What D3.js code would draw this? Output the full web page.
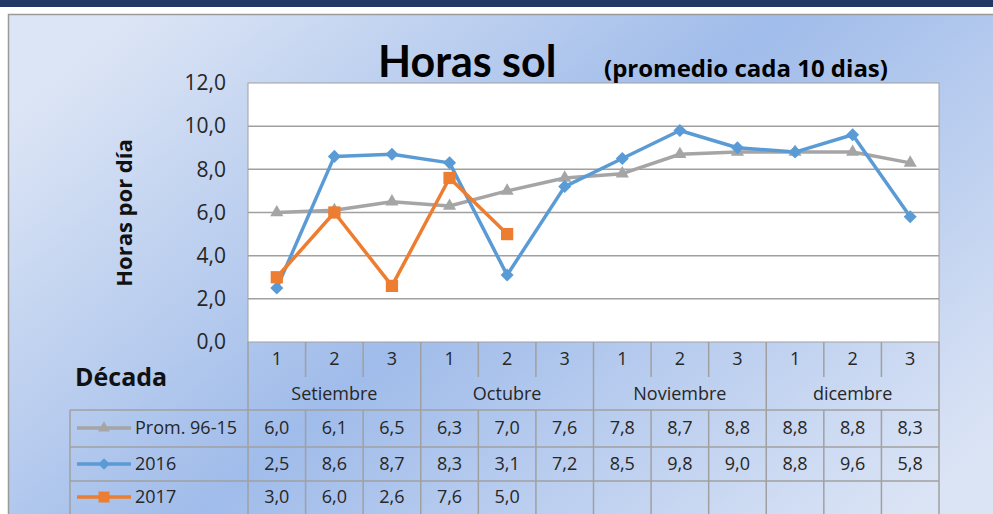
<!DOCTYPE html>
<html>
<head>
<meta charset="utf-8">
<script src="https://cdn.jsdelivr.net/npm/d3@7"></script>
<style>
  html, body { margin: 0; padding: 0; background: #fff; }
  svg { display: block; font-family: Lato, "Open Sans", sans-serif; }
</style>
</head>
<body>
<div id="chart"></div>
<script>
// data
const decadas = ['1', '2', '3', '1', '2', '3', '1', '2', '3', '1', '2', '3'];
const meses = ['Setiembre', 'Octubre', 'Noviembre', 'dicembre'];
const prom9615 = [6.0, 6.1, 6.5, 6.3, 7.0, 7.6, 7.8, 8.7, 8.8, 8.8, 8.8, 8.3];
const serie2016 = [2.5, 8.6, 8.7, 8.3, 3.1, 7.2, 8.5, 9.8, 9.0, 8.8, 9.6, 5.8];
const serie2017 = [3.0, 6.0, 2.6, 7.6, 5.0, null, null, null, null, null, null, null];
const yTicks = [0, 2, 4, 6, 8, 10, 12];

const series = [
  { name: 'Prom. 96-15', values: prom9615, color: '#a5a5a5', symbol: d3.symbolTriangle, size: 75, rot: 0 },
  { name: '2016', values: serie2016, color: '#5b9bd5', symbol: d3.symbolSquare, size: 85, rot: 45 },
  { name: '2017', values: serie2017, color: '#ed7d31', symbol: d3.symbolSquare, size: 150, rot: 0 }
];

const W = 993, H = 514;
const plot = { left: 248, right: 939, top: 83, bottom: 342 };
const rowY = [342, 377, 410, 447, 481, 520];
const legendLeft = 70;
const gridColor = '#a0a0a0';
const textColor = '#262626';

const fmt = v => d3.format('.1f')(v).replace('.', ',');

const svg = d3.select('#chart').append('svg')
  .attr('width', W)
  .attr('height', H);

// fondo
const defs = svg.append('defs');
const grad = defs.append('linearGradient')
  .attr('id', 'bg')
  .attr('x1', '0').attr('y1', '0.2')
  .attr('x2', '1').attr('y2', '0.8');
grad.append('stop').attr('offset', '0').attr('stop-color', '#dce5f5');
grad.append('stop').attr('offset', '0.48').attr('stop-color', '#a0bcea');
grad.append('stop').attr('offset', '1').attr('stop-color', '#dbe4f5');

svg.append('rect').attr('width', W).attr('height', 7).attr('fill', '#203864');
svg.append('rect')
  .attr('x', 8.5).attr('y', 14.5)
  .attr('width', W + 10).attr('height', H)
  .attr('fill', 'url(#bg)')
  .attr('stroke', '#9a9a9a')
  .attr('stroke-width', 1.5);

// scales
const x = d3.scaleBand()
  .domain(d3.range(decadas.length))
  .range([plot.left, plot.right]);
const y = d3.scaleLinear()
  .domain([0, 12])
  .range([plot.bottom, plot.top]);

// plot area
svg.append('rect')
  .attr('x', plot.left).attr('y', plot.top)
  .attr('width', plot.right - plot.left)
  .attr('height', plot.bottom - plot.top)
  .attr('fill', '#fff')
  .attr('stroke', gridColor)
  .attr('stroke-width', 1);

svg.append('g')
  .selectAll('line')
  .data(yTicks.filter(t => t > 0 && t < 12))
  .join('line')
  .attr('x1', plot.left).attr('x2', plot.right)
  .attr('y1', d => y(d)).attr('y2', d => y(d))
  .attr('stroke', gridColor)
  .attr('stroke-width', 1.5);

const yAxis = svg.append('g')
  .attr('transform', `translate(${plot.left},0)`)
  .call(d3.axisLeft(y).tickValues(yTicks).tickFormat(fmt).tickSize(0).tickPadding(22));
yAxis.select('.domain').remove();
yAxis.selectAll('text')
  .attr('font-family', '"Open Sans", sans-serif')
  .attr('font-size', 21)
  .attr('fill', textColor);

svg.append('text')
  .attr('transform', 'translate(132,213) rotate(-90)')
  .attr('text-anchor', 'middle')
  .attr('font-size', 22)
  .attr('font-family', '"Open Sans", sans-serif')
  .attr('font-weight', 'bold')
  .attr('fill', '#111')
  .text('Horas por día');

// title
svg.append('text')
  .attr('x', 378).attr('y', 77)
  .attr('font-size', 43)
  .attr('font-weight', 'bold')
  .attr('fill', '#000')
  .text('Horas sol');
svg.append('text')
  .attr('x', 604).attr('y', 77)
  .attr('font-size', 24)
  .attr('font-family', '"Open Sans", sans-serif')
  .attr('font-weight', 'bold')
  .attr('fill', '#000')
  .text('(promedio cada 10 dias)');

// lines
const cx = i => x(i) + x.bandwidth() / 2;
const line = d3.line()
  .defined(d => d != null)
  .x((d, i) => cx(i))
  .y(d => y(d));

const sg = svg.append('g')
  .selectAll('g')
  .data(series)
  .join('g');
sg.append('path')
  .attr('d', d => line(d.values))
  .attr('fill', 'none')
  .attr('stroke', d => d.color)
  .attr('stroke-width', 3.5)
  .attr('stroke-linejoin', 'round');
sg.each(function (s) {
  d3.select(this).selectAll('path.mk')
    .data(s.values.map((v, i) => ({ v, i })).filter(d => d.v != null))
    .join('path')
    .attr('class', 'mk')
    .attr('d', d3.symbol().type(s.symbol).size(s.size))
    .attr('transform', d => `translate(${cx(d.i)},${y(d.v)}) rotate(${s.rot})`)
    .attr('fill', s.color);
});

// data table
const tbl = svg.append('g').attr('stroke', gridColor).attr('stroke-width', 1.5);
tbl.selectAll('line.h')
  .data([rowY[2], rowY[3], rowY[4]])
  .join('line')
  .attr('x1', legendLeft).attr('x2', plot.right)
  .attr('y1', d => d).attr('y2', d => d);
tbl.append('line').attr('x1', legendLeft).attr('x2', legendLeft)
  .attr('y1', rowY[2]).attr('y2', H);
d3.range(decadas.length + 1).forEach(i => {
  const xx = i < decadas.length ? x(i) : plot.right;
  if (i % 3 === 0) {
    tbl.append('line').attr('x1', xx).attr('x2', xx).attr('y1', plot.bottom).attr('y2', H);
  } else {
    tbl.append('line').attr('x1', xx).attr('x2', xx).attr('y1', plot.bottom).attr('y2', rowY[1]);
    tbl.append('line').attr('x1', xx).attr('x2', xx).attr('y1', rowY[2]).attr('y2', H);
  }
});

const txt = svg.append('g')
  .attr('font-family', '"Open Sans", sans-serif')
  .attr('font-size', 18)
  .attr('fill', textColor)
  .attr('text-anchor', 'middle');

txt.selectAll('text.dec')
  .data(decadas)
  .join('text')
  .attr('x', (d, i) => cx(i))
  .attr('y', 365)
  .text(d => d);

txt.selectAll('text.mes')
  .data(meses)
  .join('text')
  .attr('x', (d, i) => (x(i * 3) + (i * 3 + 3 < decadas.length ? x(i * 3 + 3) : plot.right)) / 2)
  .attr('y', 400)
  .text(d => d);

const legendY = [428, 464, 497];
series.forEach((s, r) => {
  txt.append('g').selectAll('text')
    .data(s.values)
    .join('text')
    .attr('x', (d, i) => cx(i))
    .attr('y', legendY[r] + 6)
    .text(d => d == null ? '' : fmt(d));

  const lg = svg.append('g');
  lg.append('line')
    .attr('x1', 77).attr('x2', 131)
    .attr('y1', legendY[r]).attr('y2', legendY[r])
    .attr('stroke', s.color).attr('stroke-width', 3.5);
  lg.append('path')
    .attr('d', d3.symbol().type(s.symbol).size(s.size * 0.8))
    .attr('transform', `translate(104,${legendY[r]}) rotate(${s.rot})`)
    .attr('fill', s.color);
  lg.append('text')
    .attr('x', 135).attr('y', legendY[r] + 6)
    .attr('font-family', '"Open Sans", sans-serif')
    .attr('font-size', 18)
    .attr('fill', textColor)
    .text(s.name);
});

svg.append('text')
  .attr('x', 75).attr('y', 386)
  .attr('font-size', 25)
  .attr('font-family', '"Open Sans", sans-serif')
  .attr('font-weight', 'bold')
  .attr('fill', '#111')
  .text('Década');
</script>
</body>
</html>
